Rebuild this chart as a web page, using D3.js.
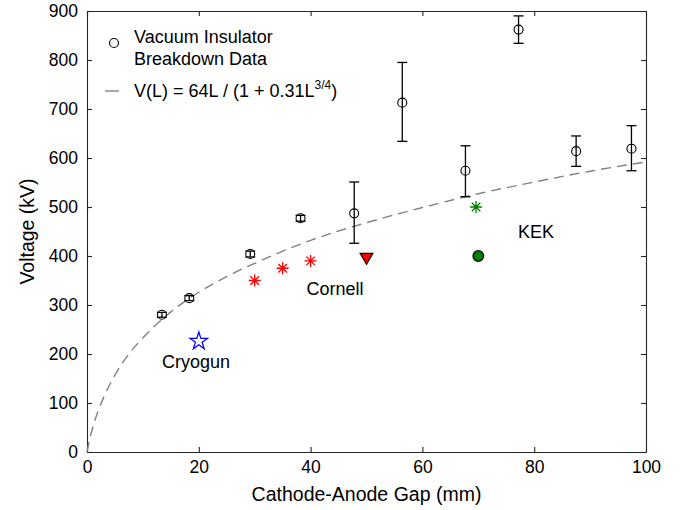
<!DOCTYPE html>
<html>
<head>
<meta charset="utf-8">
<script src="https://cdn.jsdelivr.net/npm/d3@7"></script>
<style>
  body { margin: 0; background: #fff; }
  svg text { font-family: "Liberation Sans", Arial, Helvetica, sans-serif; fill: #000; }
</style>
</head>
<body>
<div id="chart"></div>
<script>
// breakdown data (gap in mm, voltage in kV, error bars)
const gapData = [13.4, 18.3, 29.2, 38.2, 47.8, 56.4, 67.7, 77.2, 87.5, 97.4];
const voltData = [280, 314, 404, 477, 487, 713, 574, 862, 614, 619];
const errLow = [275, 309, 398, 471, 426, 634, 521, 834, 583, 574];
const errHigh = [285, 319, 410, 483, 551, 795, 625, 890, 645, 666];

// V(L) = 64L / (1 + 0.31L^3/4)
const fitGap = [0, 0.5, 1, 2, 3, 5, 7.5, 10, 15, 20, 25, 30, 40, 50, 60, 70, 80, 90, 100];
const fitVolt = [0, 27, 49, 84, 112, 157, 200, 233, 286, 326, 358, 385, 432, 468, 499, 527, 551, 573, 592];

// other guns
const cornellGap = [30, 35, 40];
const cornellVolt = [350, 375, 390];
const cornellTri = [50, 398];
const kekStar = [69.6, 500];
const kekDot = [70, 400];
const cryogun = [20, 226];

const xTicks = [0, 20, 40, 60, 80, 100];
const yTicks = [0, 100, 200, 300, 400, 500, 600, 700, 800, 900];

const W = 684, H = 510;
const margin = {top: 11, right: 38, bottom: 58, left: 87};
const iw = W - margin.left - margin.right;
const ih = H - margin.top - margin.bottom;

const svg = d3.select('#chart').append('svg')
  .attr('width', W).attr('height', H);

const x = d3.scaleLinear().domain([0, 100]).range([margin.left, margin.left + iw]);
const y = d3.scaleLinear().domain([0, 900]).range([margin.top + ih, margin.top]);

const axisColor = '#262626';
const tickFs = 17.5, fs = 18, labelFs = 19.5;

// axes (box with inward ticks on all sides)
const g = svg.append('g');
g.append('g').attr('transform', `translate(0,${margin.top + ih})`)
  .call(d3.axisBottom(x).tickValues(xTicks).tickSizeInner(-5).tickSizeOuter(0).tickPadding(9));
g.append('g').attr('transform', `translate(0,${margin.top})`)
  .call(d3.axisTop(x).tickValues(xTicks).tickSizeInner(-5).tickSizeOuter(0).tickFormat(''));
g.append('g').attr('transform', `translate(${margin.left},0)`)
  .call(d3.axisLeft(y).tickValues(yTicks).tickSizeInner(-5).tickSizeOuter(0).tickPadding(9));
g.append('g').attr('transform', `translate(${margin.left + iw},0)`)
  .call(d3.axisRight(y).tickValues(yTicks).tickSizeInner(-5).tickSizeOuter(0).tickFormat(''));
g.selectAll('.domain, .tick line').attr('stroke', axisColor).attr('stroke-width', 1.1);
g.selectAll('.tick text').attr('font-size', tickFs).attr('fill', '#000')
  .style('font-family', '"Liberation Sans", Arial, sans-serif');

// axis labels
svg.append('text').attr('x', margin.left + iw / 2).attr('y', 501)
  .attr('text-anchor', 'middle').attr('font-size', labelFs).text('Cathode-Anode Gap (mm)');
svg.append('text').attr('transform', `translate(34,${margin.top + ih / 2}) rotate(-90)`)
  .attr('text-anchor', 'middle').attr('font-size', labelFs).text('Voltage (kV)');

const plot = svg.append('g');

// fitted curve
const fitPts = fitGap.map((d, i) => [d, fitVolt[i]]);
plot.append('path').datum(fitPts)
  .attr('d', d3.line().x(d => x(d[0])).y(d => y(d[1])).curve(d3.curveMonotoneX))
  .attr('fill', 'none').attr('stroke', '#808080').attr('stroke-width', 1.4)
  .attr('stroke-dasharray', '10,6');

// error bars
const pts = gapData.map((d, i) => ({g: d, v: voltData[i], lo: errLow[i], hi: errHigh[i]}));
const eb = plot.append('g').attr('stroke', '#000').attr('stroke-width', 1.3);
pts.forEach(p => {
  eb.append('line').attr('x1', x(p.g)).attr('x2', x(p.g)).attr('y1', y(p.lo)).attr('y2', y(p.hi));
  eb.append('line').attr('x1', x(p.g) - 5).attr('x2', x(p.g) + 5).attr('y1', y(p.lo)).attr('y2', y(p.lo));
  eb.append('line').attr('x1', x(p.g) - 5).attr('x2', x(p.g) + 5).attr('y1', y(p.hi)).attr('y2', y(p.hi));
});
plot.selectAll('circle.data').data(pts).join('circle').attr('class', 'data')
  .attr('cx', d => x(d.g)).attr('cy', d => y(d.v)).attr('r', 4.5)
  .attr('fill', 'none').attr('stroke', '#000').attr('stroke-width', 1.1);

// asterisk marker (plus + times)
function asterisk(cx, cy, r) {
  const a = r * Math.SQRT1_2;
  return `M${cx - r},${cy}L${cx + r},${cy}M${cx},${cy - r}L${cx},${cy + r}` +
    `M${cx - a},${cy - a}L${cx + a},${cy + a}M${cx - a},${cy + a}L${cx + a},${cy - a}`;
}
cornellGap.forEach((d, i) => {
  plot.append('path').attr('d', asterisk(x(d), y(cornellVolt[i]), 6))
    .attr('stroke', '#ff0000').attr('stroke-width', 1.3).attr('fill', 'none');
});
plot.append('path').attr('d', asterisk(x(kekStar[0]), y(kekStar[1]), 6))
  .attr('stroke', '#008000').attr('stroke-width', 1.3).attr('fill', 'none');

// Cornell triangle (pointing down)
plot.append('path')
  .attr('d', d3.symbol().type(d3.symbolTriangle).size(70)())
  .attr('transform', `translate(${x(cornellTri[0])},${y(cornellTri[1])}) rotate(180)`)
  .attr('fill', '#ff0000').attr('stroke', '#000').attr('stroke-width', 1.2);

// KEK filled circle
plot.append('circle').attr('cx', x(kekDot[0])).attr('cy', y(kekDot[1])).attr('r', 5.3)
  .attr('fill', '#008000').attr('stroke', '#000').attr('stroke-width', 1.2);

// Cryogun star
plot.append('path')
  .attr('d', d3.symbol().type(d3.symbolStar).size(95)())
  .attr('transform', `translate(${x(cryogun[0])},${y(cryogun[1])})`)
  .attr('fill', 'none').attr('stroke', '#0000ff').attr('stroke-width', 1.3);

// labels
svg.append('text').attr('x', 196).attr('y', 368).attr('text-anchor', 'middle').attr('font-size', fs).text('Cryogun');
svg.append('text').attr('x', 335).attr('y', 295).attr('text-anchor', 'middle').attr('font-size', fs).text('Cornell');
svg.append('text').attr('x', 536).attr('y', 238).attr('text-anchor', 'middle').attr('font-size', fs).text('KEK');

// legend
const leg = svg.append('g');
leg.append('circle').attr('cx', 114).attr('cy', 43).attr('r', 4.5)
  .attr('fill', 'none').attr('stroke', '#000').attr('stroke-width', 1.1);
leg.append('text').attr('x', 134).attr('y', 43).attr('font-size', fs).text('Vacuum Insulator');
leg.append('text').attr('x', 134).attr('y', 65).attr('font-size', fs).text('Breakdown Data');
leg.append('line').attr('x1', 105).attr('x2', 119).attr('y1', 91).attr('y2', 91)
  .attr('stroke', '#808080').attr('stroke-width', 1.4);
const ft = leg.append('text').attr('x', 134).attr('y', 97).attr('font-size', fs);
ft.append('tspan').text('V(L) = 64L / (1 + 0.31L');
ft.append('tspan').attr('font-size', 12).attr('dy', -8).text('3/4');
ft.append('tspan').attr('dy', 8).text(')');
</script>
</body>
</html>
